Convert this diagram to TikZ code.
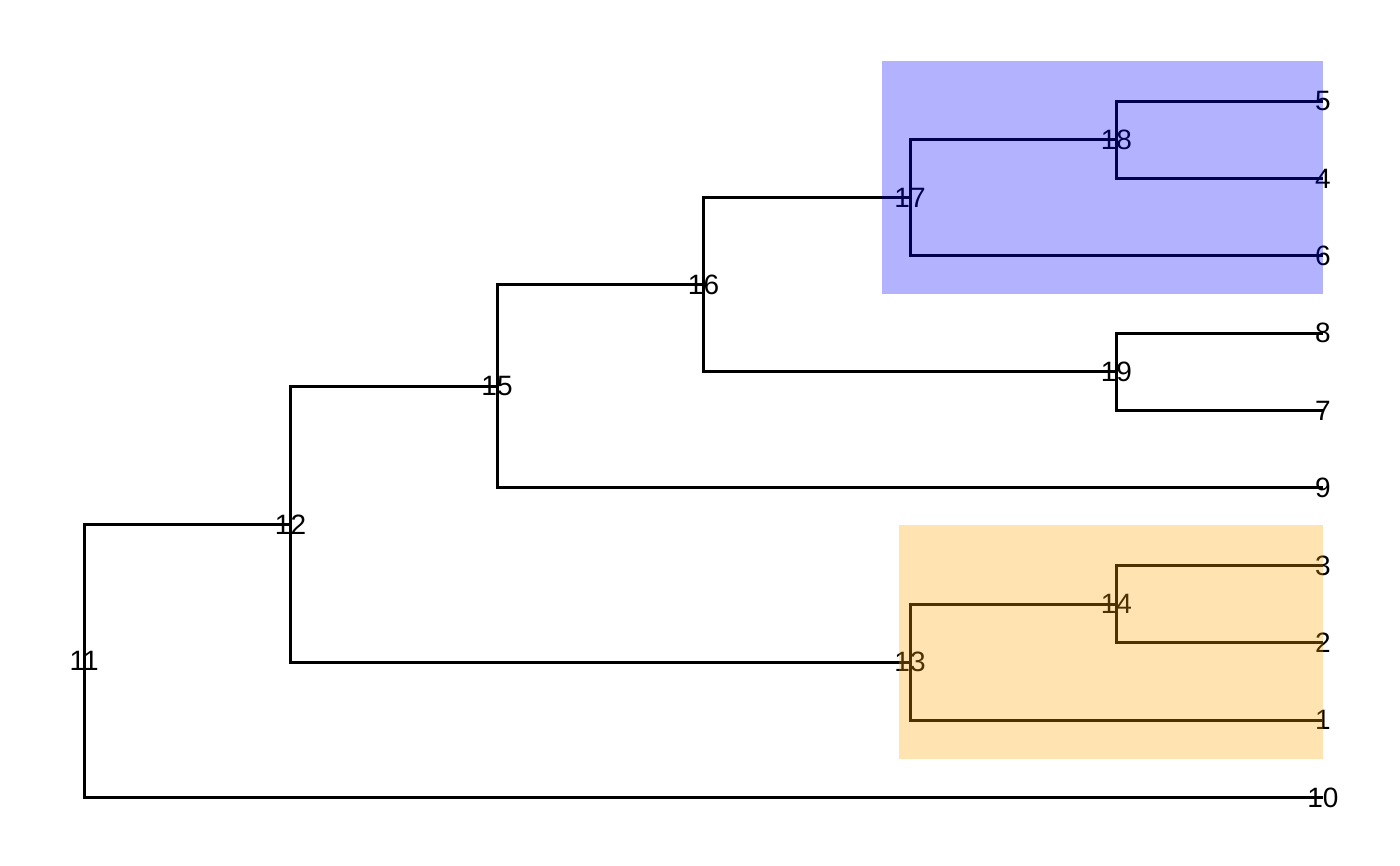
\documentclass[tikz,border=0pt]{standalone}
\usepackage{fontspec}
\setmainfont{Liberation Sans}
\definecolor{cladeblue}{RGB}{0,0,255}
\definecolor{cladeorange}{RGB}{255,165,0}
\begin{document}
\begin{tikzpicture}[x=103.25pt,y=-38.7pt,line width=1.5pt,
  every node/.style={inner sep=0pt,font=\fontsize{14}{14}\selectfont}]
    \useasboundingbox (-0.407,-0.305) rectangle (6.373,10.884);
    % tips
    \foreach \t [count=\y] in {5,4,6,8,7,9,3,2,1,10}{
  \node (n\t) at (6,\y) {\t};
}
    % inner nodes: name/level/height
    \foreach \n/\l/\y in {18/5/1.5, 19/5/4.5, 14/5/7.5, 17/4/2.25, 13/4/8.25,
      16/3/3.375, 15/2/4.6875, 12/1/6.46875, 11/0/8.234375}{
  \node (n\n) at (\l,\y) {\n};
}
    % branches
    \foreach \p/\c in {18/5,18/4,17/18,17/6,19/8,19/7,16/17,16/19,15/16,15/9,
      14/3,14/2,13/14,13/1,12/15,12/13,11/12,11/10}{
  \draw (n\p.center) |- (n\c.center);
}
    % highlighted clades
    \fill [cladeblue,opacity=.3] (3.864,0.483) rectangle (6,3.49);
    \fill [cladeorange,opacity=.3] (3.947,6.478) rectangle (6,9.5);
\end{tikzpicture}
\end{document}
